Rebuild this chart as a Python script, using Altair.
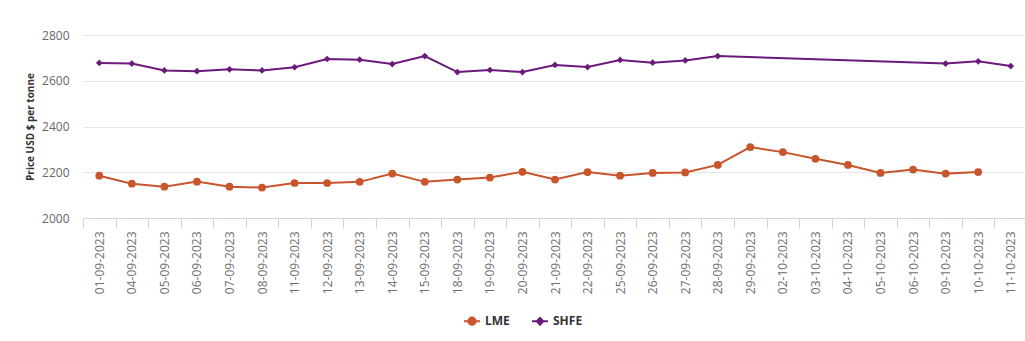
import altair as alt
import pandas as pd

dates = ["01-09-2023", "04-09-2023", "05-09-2023", "06-09-2023", "07-09-2023", "08-09-2023",
         "11-09-2023", "12-09-2023", "13-09-2023", "14-09-2023", "15-09-2023", "18-09-2023",
         "19-09-2023", "20-09-2023", "21-09-2023", "22-09-2023", "25-09-2023", "26-09-2023",
         "27-09-2023", "28-09-2023", "29-09-2023", "02-10-2023", "03-10-2023", "04-10-2023",
         "05-10-2023", "06-10-2023", "09-10-2023", "10-10-2023", "11-10-2023"]
lme = [2185, 2150, 2137, 2159, 2137, 2133, 2153, 2153, 2158, 2194,
       2158, 2168, 2177, 2202, 2168, 2201, 2185, 2197, 2199, 2232,
       2310, 2288, 2259, 2232, 2197, 2212, 2194, 2201, None]
shfe = [2678, 2675, 2645, 2642, 2650, 2645, 2659, 2695, 2692, 2673,
        2708, 2638, 2647, 2638, 2669, 2660, 2691, 2679, 2689, 2708,
        None, None, None, None, None, None, 2675, 2685, 2664]
series = ["LME", "SHFE"]
colors = ["#c8552c", "#6b1a7b"]
y_ticks = [2000, 2200, 2400, 2600, 2800]

rows = []
for name, vals in zip(series, [lme, shfe]):
    for d, v in zip(dates, vals):
        if v is not None:
            rows.append({"date": d, "series": name, "price": v})
df = pd.DataFrame(rows)

FONT = "Open Sans"

path_lme = "M-1,0L1,0M-0.45,0A0.45,0.45,0,1,0,0.45,0A0.45,0.45,0,1,0,-0.45,0Z"
path_shfe = "M-1,0L1,0M0,-0.42L0.4,0L0,0.42L-0.4,0Z"
shape_sig = "datum.value === 'LME' ? '%s' : '%s'" % (path_lme, path_shfe)
fill_sig = "datum.value === 'LME' ? '%s' : '%s'" % (colors[0], colors[1])

legend = alt.Legend(
    title=None, orient="none", direction="horizontal", legendX=380, legendY=277,
    labelFont=FONT, labelFontSize=12, labelFontWeight="bold", labelColor="#333333",
    symbolSize=256, symbolStrokeWidth=2, columnPadding=18, labelOffset=4,
    symbolType=alt.ExprRef(shape_sig),
    symbolFillColor=alt.ExprRef(fill_sig),
    symbolStrokeColor=alt.ExprRef(fill_sig),
    symbolOpacity=1,
)

x_enc = alt.X("date:N", sort=dates, title=None,
              scale=alt.Scale(type="band", paddingInner=0, paddingOuter=0, range=[0, 944]),
              axis=alt.Axis(labelAngle=-90, labelFont=FONT, labelFontSize=12, labelColor="#6e6e6e",
                            tickBand="extent", tickSize=10, tickColor="#ccd6eb", domainColor="#ccd6eb",
                            labelPadding=3, grid=False, labelOverlap=False))
y_enc = alt.Y("price:Q", title="Price USD $ per tonne",
              scale=alt.Scale(domain=[2000, 2800], nice=False, zero=False),
              axis=alt.Axis(values=y_ticks, format="d", labelFont=FONT, labelFontSize=12,
                            labelColor="#666666",
                            ticks=False, domain=False, gridColor="#e6e6e6", labelPadding=14,
                            titleFont=FONT, titleFontSize=10, titleFontWeight="bold",
                            titleColor="#333333", titlePadding=6))
color_enc = alt.Color("series:N", scale=alt.Scale(domain=series, range=colors), legend=legend)

base = alt.Chart(df).encode(x=x_enc, y=y_enc, color=color_enc)
lines = base.mark_line(strokeWidth=2)
pts_lme = base.transform_filter(alt.datum.series == "LME").mark_point(
    filled=True, opacity=1, shape="circle", size=60)
pts_shfe = base.transform_filter(alt.datum.series == "SHFE").mark_point(
    filled=True, opacity=1, shape="diamond", size=45)

chart = alt.layer(lines, pts_lme, pts_shfe).properties(
    width=935, height=183,
    autosize=alt.AutoSizeParams(type="none"),
    padding={"left": 83, "top": 35, "right": 7, "bottom": 123},
    background="white",
).configure_view(stroke=None)

chart.save("out.html", embed_options={"renderer": "svg", "actions": False})
